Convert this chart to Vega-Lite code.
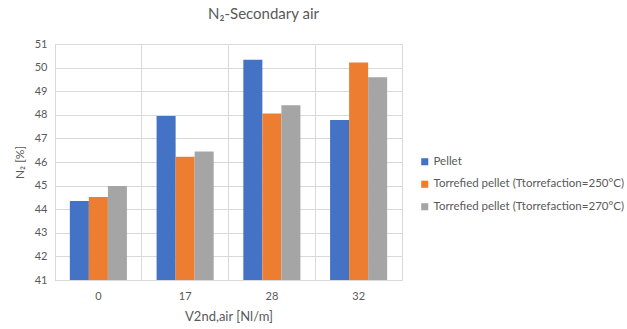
{
  "$schema": "https://vega.github.io/schema/vega-lite/v6.json",
  "width": 347,
  "height": 236,
  "autosize": {"type": "none"},
  "padding": {"left": 55, "top": 44, "right": 225, "bottom": 49},
  "background": "white",
  "config": {
    "font": "Lato",
    "view": {"stroke": "#d9d9d9", "strokeWidth": 1}
  },
  "title": {
    "text": "N₂-Secondary air",
    "fontSize": 15,
    "fontWeight": "normal",
    "color": "#595959",
    "anchor": "middle",
    "dx": 35,
    "offset": 16,
    "font": "Lato"
  },
  "data": {
    "values": [
      {"v": "0", "series": "Pellet", "n2": 44.35},
      {"v": "0", "series": "Torrefied pellet (Ttorrefaction=250°C)", "n2": 44.52},
      {"v": "0", "series": "Torrefied pellet (Ttorrefaction=270°C)", "n2": 44.98},
      {"v": "17", "series": "Pellet", "n2": 47.95},
      {"v": "17", "series": "Torrefied pellet (Ttorrefaction=250°C)", "n2": 46.22},
      {"v": "17", "series": "Torrefied pellet (Ttorrefaction=270°C)", "n2": 46.44},
      {"v": "28", "series": "Pellet", "n2": 50.33},
      {"v": "28", "series": "Torrefied pellet (Ttorrefaction=250°C)", "n2": 48.06},
      {"v": "28", "series": "Torrefied pellet (Ttorrefaction=270°C)", "n2": 48.4},
      {"v": "32", "series": "Pellet", "n2": 47.78},
      {"v": "32", "series": "Torrefied pellet (Ttorrefaction=250°C)", "n2": 50.22},
      {"v": "32", "series": "Torrefied pellet (Ttorrefaction=270°C)", "n2": 49.59}
    ]
  },
  "mark": {"type": "bar", "clip": true},
  "encoding": {
    "x": {
      "field": "v",
      "type": "nominal",
      "sort": ["0", "17", "28", "32"],
      "scale": {"paddingInner": 0, "paddingOuter": 0},
      "axis": {
        "title": "V2nd,air  [Nl/m]",
        "titleFont": "Lato",
        "titleFontSize": 13,
        "titleFontWeight": "normal",
        "titleColor": "#595959",
        "titlePadding": 9,
        "labelAngle": 0,
        "labelFontSize": 11,
        "labelColor": "#595959",
        "labelPadding": 10,
        "ticks": false,
        "domainColor": "#d9d9d9",
        "grid": true,
        "gridColor": "#d9d9d9",
        "bandPosition": 0
      }
    },
    "xOffset": {
      "field": "series",
      "type": "nominal",
      "scale": {"paddingOuter": 0.78, "paddingInner": 0}
    },
    "y": {
      "field": "n2",
      "type": "quantitative",
      "scale": {"domain": [41, 51], "nice": false, "zero": false},
      "axis": {
        "title": "N₂ [%]",
        "titleFont": "Lato",
        "titleFontSize": 12,
        "titleFontWeight": "normal",
        "titleColor": "#595959",
        "titlePadding": 8,
        "values": [41, 42, 43, 44, 45, 46, 47, 48, 49, 50, 51],
        "labelFontSize": 11,
        "labelColor": "#595959",
        "labelPadding": 8,
        "ticks": false,
        "domain": false,
        "grid": true,
        "gridColor": "#d9d9d9"
      }
    },
    "color": {
      "field": "series",
      "type": "nominal",
      "scale": {
        "domain": ["Pellet", "Torrefied pellet (Ttorrefaction=250°C)", "Torrefied pellet (Ttorrefaction=270°C)"],
        "range": ["#4472C4", "#ED7D31", "#A5A5A5"]
      },
      "legend": {
        "title": null,
        "orient": "none",
        "legendX": 364,
        "legendY": 112,
        "symbolType": "square",
        "symbolSize": 50,
        "symbolStrokeWidth": 0,
        "labelFontSize": 11.5,
        "labelColor": "#595959",
        "labelFont": "Lato",
        "labelLimit": 300,
        "rowPadding": 9.5,
        "labelOffset": 3
      }
    }
  }
}
